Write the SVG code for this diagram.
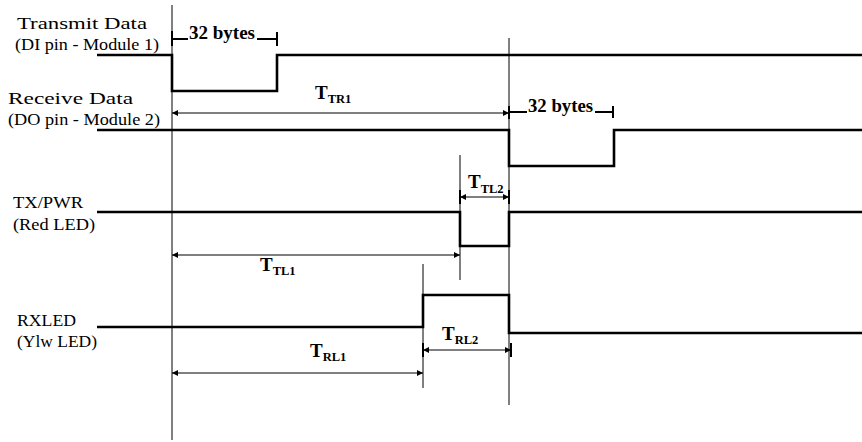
<svg xmlns="http://www.w3.org/2000/svg" width="862" height="442" viewBox="0 0 862 442">
<defs>
<marker id="ah" viewBox="0 0 10 10" refX="10" refY="5" markerWidth="9" markerHeight="6" markerUnits="userSpaceOnUse" orient="auto-start-reverse">
<path d="M0,0 L10,5 L0,10 z" fill="#000"/>
</marker>
<style>
.sig{fill:none;stroke:#000;stroke-width:2.6;stroke-linejoin:miter}
.ref{fill:none;stroke:#000;stroke-width:1}
.dim{fill:none;stroke:#000;stroke-width:1;marker-start:url(#ah);marker-end:url(#ah)}
.brk{fill:none;stroke:#000;stroke-width:2}
text{font-family:'Liberation Serif','DejaVu Serif',serif;fill:#000}
.lbl{font-size:17.5px}
.bt{font-size:18px;font-weight:bold}
.T{font-size:19px;font-weight:bold}
.sub{font-size:12.5px}
</style>
</defs>
<rect width="862" height="442" fill="#fff"/>
<g id="labels">
<text class="lbl" x="17" y="29" textLength="130" lengthAdjust="spacingAndGlyphs">Transmit Data</text>
<text class="lbl" x="15" y="50" textLength="144" lengthAdjust="spacingAndGlyphs">(DI pin - Module 1)</text>
<text class="lbl" x="8" y="104" textLength="125" lengthAdjust="spacingAndGlyphs">Receive Data</text>
<text class="lbl" x="8" y="125" textLength="152" lengthAdjust="spacingAndGlyphs">(DO pin - Module 2)</text>
<text class="lbl" x="13" y="208" textLength="70" lengthAdjust="spacingAndGlyphs">TX/PWR</text>
<text class="lbl" x="13" y="230" textLength="82" lengthAdjust="spacingAndGlyphs">(Red LED)</text>
<text class="lbl" x="17" y="326" textLength="59" lengthAdjust="spacingAndGlyphs">RXLED</text>
<text class="lbl" x="17" y="347" textLength="80" lengthAdjust="spacingAndGlyphs">(Ylw LED)</text>
</g>
<g id="reference-lines">
<line class="ref" x1="172" y1="5" x2="172" y2="440"/>
<line class="ref" x1="509" y1="38" x2="509" y2="405"/>
<line class="ref" x1="460" y1="155" x2="460" y2="280"/>
<line class="ref" x1="423" y1="264" x2="423" y2="388"/>
</g>
<g id="signal-transmit">
<path class="sig" d="M97,55 H172 V91 H277 V55 H862"/>
</g>
<g id="signal-receive">
<path class="sig" d="M97,130 H509 V166 H614 V130 H862"/>
</g>
<g id="signal-txpwr">
<path class="sig" d="M97,212 H460 V246 H509 V212 H862"/>
</g>
<g id="signal-rxled">
<path class="sig" d="M97,327 H423 V295 H509 V333 H862"/>
</g>
<g id="connectors">
<line class="dim" x1="172" y1="113" x2="509" y2="113"/>
<line class="dim" x1="460" y1="197" x2="509" y2="197"/>
<line class="dim" x1="172" y1="255" x2="460" y2="255"/>
<line class="dim" x1="423" y1="350" x2="511" y2="350"/>
<line class="dim" x1="172" y1="373" x2="423" y2="373"/>
<path class="brk" d="M172,31 V46 M172,39 H188 M257,39 H277 M277,32 V46"/>
<path class="brk" d="M509,106 V119 M509,112 H527 M595,112 H613 M613,106 V118"/>
<path class="brk" d="M460,190 V204 M509,190 V204 M423,343 V357 M511,343 V357"/>
</g>
<g id="dim-labels">
<text class="bt" x="189" y="39" textLength="66" lengthAdjust="spacingAndGlyphs">32 bytes</text>
<text class="bt" x="528" y="112" textLength="65" lengthAdjust="spacingAndGlyphs">32 bytes</text>
<text class="T" x="315" y="99">T<tspan class="sub" dy="4">TR1</tspan></text>
<text class="T" x="468" y="188">T<tspan class="sub" dy="5">TL2</tspan></text>
<text class="T" x="260" y="271">T<tspan class="sub" dy="4">TL1</tspan></text>
<text class="T" x="442" y="340">T<tspan class="sub" dy="4">RL2</tspan></text>
<text class="T" x="310" y="357">T<tspan class="sub" dy="4">RL1</tspan></text>
</g>
</svg>
